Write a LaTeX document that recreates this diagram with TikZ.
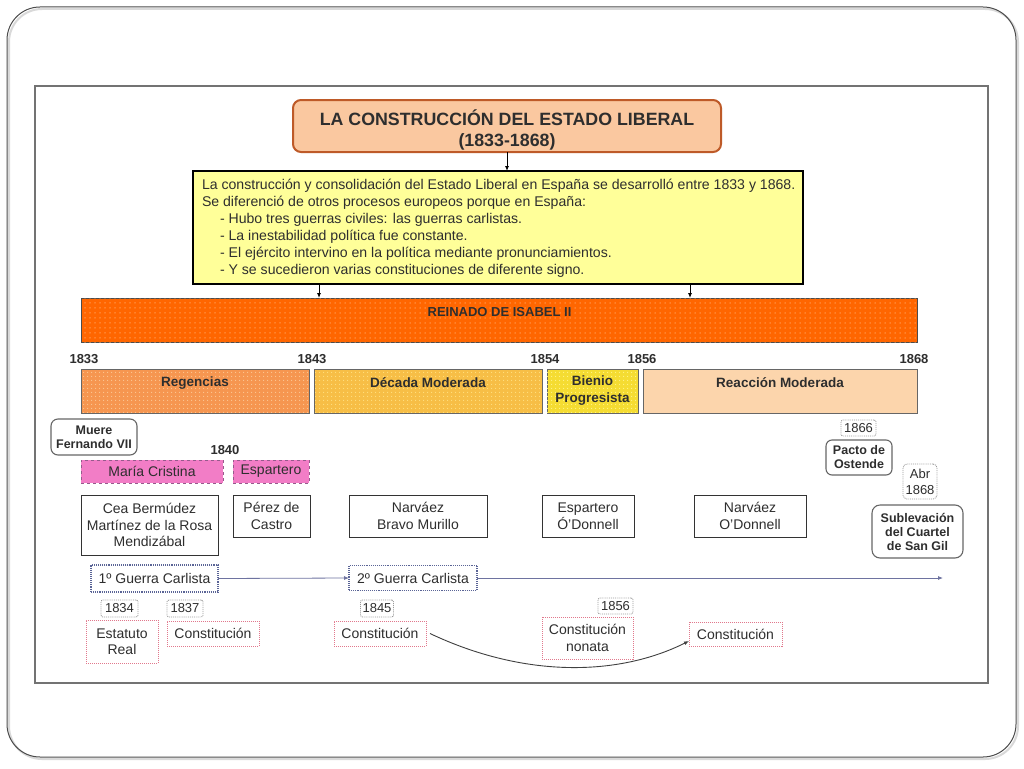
\documentclass[tikz,border=0pt]{standalone}
\usepackage{fontspec}
\setmainfont{Liberation Sans}
\usetikzlibrary{patterns.meta,arrows.meta}
\definecolor{titlefill}{RGB}{250,200,160}
\definecolor{titledraw}{RGB}{190,90,40}
\definecolor{yel}{RGB}{255,255,153}
\definecolor{barfill}{RGB}{255,102,0}
\definecolor{bardot}{RGB}{255,160,90}
\definecolor{regfill}{RGB}{246,150,80}
\definecolor{regdot}{RGB}{252,200,150}
\definecolor{decfill}{RGB}{247,190,70}
\definecolor{decdot}{RGB}{255,225,130}
\definecolor{bienfill}{RGB}{245,220,50}
\definecolor{biendot}{RGB}{255,245,140}
\definecolor{reacfill}{RGB}{252,213,172}
\definecolor{pinkfill}{RGB}{242,125,198}
\definecolor{pinkdraw}{RGB}{150,90,140}
\definecolor{constdraw}{RGB}{225,120,140}
\definecolor{guerradraw}{RGB}{90,100,150}
\definecolor{arrowline}{RGB}{110,115,160}
\begin{document}
\begin{tikzpicture}[x=1pt,y=-1pt,
  every node/.style={inner sep=0pt, outer sep=0pt, text=black!82},
  reg/.style={font=\fontsize{14}{16.5}\selectfont, align=center},
  bld/.style={font=\bfseries\fontsize{13.5}{17}\selectfont, align=center},
  sbld/.style={font=\bfseries\fontsize{12.5}{14}\selectfont, align=center},
  plainbox/.style={draw=black!80, line width=1pt, fill=white, reg},
  pinkbox/.style={draw=pinkdraw, dashed, line width=0.9pt, fill=pinkfill, reg},
  constbox/.style={draw=constdraw, densely dotted, line width=1pt, reg},
  guerrabox/.style={draw=guerradraw, densely dotted, line width=1.1pt, reg},
  yearbox/.style={draw=black!40, densely dotted, line width=0.9pt, rounded corners=2pt, font=\fontsize{13}{15}\selectfont, align=center},
  roundbox/.style={draw=black!60, line width=1.1pt, rounded corners=6pt, fill=white, sbld},
  period/.style={draw=black!60, line width=0.9pt},
  yeartxt/.style={font=\bfseries\fontsize{13}{15}\selectfont},
  darr/.style={-{Latex[length=5pt,width=4pt]}, line width=0.9pt, black},
  garr/.style={-{Latex[length=5pt,width=4pt]}, line width=0.8pt, arrowline},
]
\useasboundingbox (0,0) rectangle (1024,768);
\fill[white] (0,0) rectangle (1024,768);
% slide frame
\draw[black!15, line width=2pt, rounded corners=33pt] (9,9) rectangle (1018,759);
\draw[black!70, line width=1pt, rounded corners=33pt] (7,7) rectangle (1016,757);
% inner picture frame
\draw[black!55, line width=1.5pt] (35,86) rectangle (988,683);

% title
\node[draw=titledraw, line width=2pt, fill=titlefill, rounded corners=8pt,
  minimum width=428pt, minimum height=52pt] (title) at (507,126) {};
\node[font=\bfseries\fontsize{17.8}{21}\selectfont, align=center] (titletxt) at (507,129.5)
  {LA CONSTRUCCIÓN DEL ESTADO LIBERAL\\(1833-1868)};

% yellow box
\node[draw=black, line width=1.3pt, fill=yel, minimum width=610pt, minimum height=113pt] (yellow) at (498,227.5) {};
\node[anchor=north west, align=left, font=\fontsize{14.1}{17}\selectfont] (yeltxt) at (202,179)
  {La construcción y consolidación del Estado Liberal en España se desarrolló entre 1833 y 1868.\\
   Se diferenció de otros procesos europeos porque en España:\\
   \hspace*{18pt}- Hubo tres guerras civiles: las guerras carlistas.\\
   \hspace*{18pt}- La inestabilidad política fue constante.\\
   \hspace*{18pt}- El ejército intervino en la política mediante pronunciamientos.\\
   \hspace*{18pt}- Y se sucedieron varias constituciones de diferente signo.};

% reinado bar
\node[period, draw=black!70, fill=barfill, minimum width=836pt, minimum height=44pt,
  postaction={pattern={Dots[distance=5pt,radius=0.75pt]}, pattern color=bardot}] (bar) at (499,320) {};
\node[font=\bfseries\fontsize{13}{15}\selectfont] (bartxt) at (499.5,312) {REINADO DE ISABEL II};

\draw[darr] (title.south) -- (title.south |- yellow.north);
\coordinate (a1) at (319,0);
\coordinate (a2) at (690,0);
\draw[darr] (a1 |- yellow.south) -- (a1 |- bar.north);
\draw[darr] (a2 |- yellow.south) -- (a2 |- bar.north);

% years
\node[yeartxt] (y1833) at (84,359) {1833};
\node[yeartxt] (y1843) at (312,359) {1843};
\node[yeartxt] (y1854) at (545,359) {1854};
\node[yeartxt] (y1856) at (642,359) {1856};
\node[yeartxt] (y1868) at (914,359) {1868};

% periods
\node[period, fill=regfill, minimum width=228pt, minimum height=44pt,
  postaction={pattern={Dots[distance=4pt,radius=0.7pt]}, pattern color=regdot}] (regencias) at (195,391) {};
\node[bld] (regtxt) at (195,383) {Regencias};
\node[period, fill=decfill, minimum width=228pt, minimum height=44pt,
  postaction={pattern={Dots[distance=4pt,radius=0.7pt]}, pattern color=decdot}] (decada) at (428,391) {};
\node[bld] (dectxt) at (428,383) {Década Moderada};
\node[period, fill=bienfill, minimum width=91pt, minimum height=44pt,
  postaction={pattern={Dots[distance=4pt,radius=0.7pt]}, pattern color=biendot}] (bienio) at (592.5,391) {};
\node[bld] (bientxt) at (592.5,391) {Bienio\\Progresista};
\node[period, fill=reacfill, minimum width=274pt, minimum height=44pt] (reaccion) at (780,391) {};
\node[bld] (reactxt) at (780,383) {Reacción Moderada};

% events left
\node[roundbox, rounded corners=7pt, minimum width=86pt, minimum height=36pt] (muere) at (94,437) {Muere\\Fernando VII};
\node[yeartxt] (y1840) at (225,450) {1840};
\node[pinkbox, minimum width=142pt, minimum height=23pt] (mcristina) at (152,471.5) {María Cristina};
\node[pinkbox, minimum width=76pt, minimum height=23pt] (espartero) at (271,471.5) {Espartero};

% governments
\node[plainbox, minimum width=137pt, minimum height=60pt] (cea) at (149.5,525) {Cea Bermúdez\\Martínez de la Rosa\\Mendizábal};
\node[plainbox, minimum width=77pt, minimum height=42pt] (perez) at (271.5,516) {Pérez de\\Castro};
\node[plainbox, minimum width=138pt, minimum height=42pt] (narvaez1) at (418,516) {Narváez\\Bravo Murillo};
\node[plainbox, minimum width=92pt, minimum height=42pt] (espod) at (588,516) {Espartero\\Ó'Donnell};
\node[plainbox, minimum width=112pt, minimum height=42pt] (narvaez2) at (750,516) {Narváez\\O'Donnell};

% right events
\node[yearbox, minimum width=35pt, minimum height=16pt] (y1866) at (858.5,428) {1866};
\node[roundbox, minimum width=66pt, minimum height=35pt] (pacto) at (859,457.5) {Pacto de\\Ostende};
\node[yearbox, rounded corners=4pt, minimum width=34pt, minimum height=35pt, font=\fontsize{13}{16}\selectfont] (abr) at (920,481.5) {Abr\\1868};
\node[roundbox, rounded corners=8pt, minimum width=91pt, minimum height=53pt] (sublev) at (917.5,531.5) {Sublevación\\del Cuartel\\de San Gil};

% carlist wars
\node[guerrabox, minimum width=127pt, minimum height=27pt] (g1) at (154.5,578.5) {1º Guerra Carlista};
\node[guerrabox, minimum width=128pt, minimum height=25pt] (g2) at (413,578) {2º Guerra Carlista};
\coordinate (gend) at (943,578);
\draw[garr] (g1.east) -- (g2.west);
\draw[garr] (g2.east) -- (gend);

% constitutions
\node[yearbox, minimum width=37pt, minimum height=17pt] (y1834) at (119.5,608.5) {1834};
\node[yearbox, minimum width=36pt, minimum height=17pt] (y1837) at (185,608.5) {1837};
\node[yearbox, minimum width=33pt, minimum height=17pt] (y1845) at (377,608.5) {1845};
\node[yearbox, minimum width=35pt, minimum height=16pt] (y1856b) at (615.5,606) {1856};
\node[constbox, minimum width=72pt, minimum height=43pt] (estatuto) at (122,641.5) {Estatuto\\Real};
\node[constbox, minimum width=92pt, minimum height=25pt] (c1837) at (213,633.5) {Constitución};
\node[constbox, minimum width=92pt, minimum height=25pt] (c1845) at (380,633.5) {Constitución};
\node[constbox, minimum width=91pt, minimum height=42pt] (nonata) at (587.5,638) {Constitución\\nonata};
\node[constbox, minimum width=93pt, minimum height=24pt] (c1856) at (735.5,634) {Constitución};

\draw[-{Latex[length=5pt,width=4pt]}, line width=0.9pt, black!75]
  ([xshift=4pt]c1845.east) .. controls +(95,45) and +(-70,35) .. ([yshift=-7pt]c1856.west);
\end{tikzpicture}
\end{document}
